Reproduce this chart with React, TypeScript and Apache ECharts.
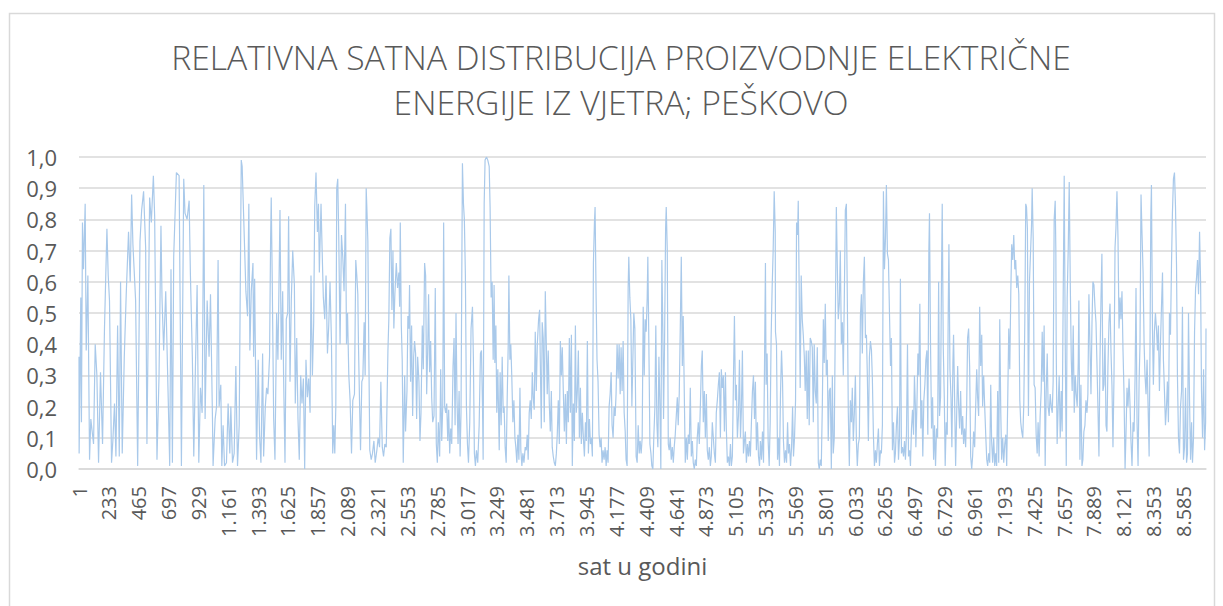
import React, { useEffect, useRef } from "react";
import * as echarts from "echarts";

const TITLE_LINE_1 = "RELATIVNA SATNA DISTRIBUCIJA PROIZVODNJE ELEKTRIČNE";
const TITLE_LINE_2 = "ENERGIJE IZ VJETRA; PEŠKOVO";
const X_NAME = "sat u godini";
const HOUR_MIN = 1;
const HOUR_MAX = 8760;
const HOUR_LABEL_STEP = 232;

// [sat u godini, relativna proizvodnja]
const part1: [number, number][] = [[1,0.36],[2,0.05],[15,0.55],[20,0.15],[28,0.79],[36,0.64],[49,0.85],[57,0.38],[70,0.62],[83,0.03],[93,0.16],[114,0.08],[127,0.40],[140,0.30],[153,0.02],[168,0.31],[184,0.08],[199,0.45],[218,0.77],[228,0.62],[238,0.54],[254,0.02],[264,0.09],[277,0.21],[288,0.04],[301,0.46],[314,0.04],[324,0.60],[337,0.05],[353,0.36],[368,0.56],[386,0.76],[399,0.60],[410,0.88],[420,0.72],[441,0.54],[457,0.01],[475,0.73],[488,0.83],[503,0.89],[519,0.71],[529,0.08],[550,0.87],[563,0.79],[579,0.94],[589,0.81],[607,0.03],[623,0.30],[638,0.78],[646,0.55],[659,0.38],[675,0.57],[693,0.25],[706,0.01],[716,0.64],[727,0.02],[737,0.68],[758,0.95],[779,0.94],[797,0.01],[815,0.93],[825,0.82],[841,0.80],[857,0.86],[867,0.62],[882,0.36],[893,0.04],[906,0.33],[919,0.59],[932,0.02],[945,0.26],[958,0.18],[971,0.91],[981,0.16],[997,0.54],[1012,0.36],[1023,0.56],[1038,0.17]];
const part2: [number, number][] = [[1043,0.01],[1059,0.16],[1070,0.20],[1082,0.67],[1090,0.20],[1103,0.27],[1111,0.01],[1121,0.14],[1132,0.01],[1147,0.02],[1160,0.21],[1173,0.05],[1181,0.20],[1194,0.02],[1207,0.05],[1220,0.33],[1233,0.01],[1246,0.14],[1254,0.56],[1262,0.99],[1269,0.97],[1293,0.64],[1298,0.57],[1311,0.49],[1321,0.85],[1329,0.38],[1340,0.57],[1353,0.66],[1358,0.36],[1366,0.61],[1373,0.33],[1381,0.03],[1394,0.35],[1404,0.11],[1415,0.02],[1428,0.37],[1436,0.04],[1449,0.20],[1459,0.26],[1469,0.24],[1482,0.36],[1490,0.73],[1495,0.87],[1503,0.60],[1514,0.16],[1524,0.03],[1537,0.50],[1547,0.35],[1555,0.58],[1563,0.83],[1573,0.35],[1584,0.57],[1591,0.30],[1602,0.02],[1612,0.48],[1623,0.50],[1630,0.81],[1641,0.28],[1651,0.54],[1662,0.70],[1675,0.59],[1682,0.21],[1693,0.42],[1703,0.16],[1713,0.03],[1724,0.30],[1734,0.21],[1745,0.29],[1755,0.00],[1765,0.35],[1776,0.23],[1786,0.29],[1797,0.18],[1804,0.62],[1815,0.30],[1825,0.47],[1833,0.84],[1843,0.95],[1854,0.76],[1862,0.85],[1869,0.63],[1882,0.85],[1890,0.71],[1900,0.55],[1911,0.48],[1921,0.62],[1932,0.37],[1942,0.46],[1952,0.60],[1963,0.41],[1973,0.05],[1981,0.14],[1989,0.05],[1997,0.20],[2004,0.90],[2012,0.93],[2020,0.74],[2030,0.40],[2041,0.75],[2051,0.68],[2061,0.57],[2072,0.85],[2080,0.40],[2088,0.50],[2098,0.30],[2108,0.22],[2119,0.05],[2129,0.22],[2142,0.24]];
const part3: [number, number][] = [[2152,0.67],[2160,0.62],[2168,0.56],[2173,0.40],[2181,0.22],[2189,0.06],[2199,0.28],[2207,0.29],[2217,0.47],[2225,0.30],[2233,0.90],[2238,0.84],[2246,0.73],[2254,0.35],[2261,0.06],[2272,0.03],[2282,0.05],[2293,0.09],[2303,0.02],[2316,0.06],[2326,0.10],[2337,0.07],[2347,0.28],[2358,0.07],[2368,0.04],[2378,0.08],[2389,0.07],[2402,0.38],[2409,0.48],[2417,0.74],[2425,0.77],[2433,0.51],[2441,0.70],[2448,0.45],[2456,0.56],[2467,0.66],[2477,0.58],[2487,0.63],[2493,0.52],[2498,0.79],[2506,0.46],[2513,0.35],[2521,0.02],[2532,0.30],[2539,0.12],[2550,0.25],[2557,0.49],[2565,0.45],[2570,0.59],[2578,0.28],[2586,0.46],[2594,0.17],[2602,0.36],[2609,0.41],[2617,0.37],[2625,0.16],[2633,0.36],[2643,0.28],[2651,0.09],[2659,0.18],[2669,0.46],[2677,0.32],[2687,0.66],[2695,0.62],[2703,0.24],[2711,0.38],[2718,0.56],[2726,0.31],[2734,0.41],[2742,0.23],[2750,0.15],[2760,0.17],[2770,0.58],[2778,0.08],[2786,0.02],[2794,0.15],[2804,0.04],[2812,0.32],[2820,0.09],[2828,0.20],[2835,0.79],[2843,0.20],[2851,0.18],[2859,0.21],[2867,0.09],[2874,0.19],[2882,0.05],[2890,0.13],[2898,0.08],[2908,0.33],[2916,0.42],[2924,0.14],[2931,0.50],[2939,0.22],[2947,0.08],[2955,0.25],[2963,0.04],[2970,0.18],[2981,0.98],[2989,0.85],[2996,0.80],[3004,0.62],[3012,0.20],[3020,0.08],[3028,0.02],[3038,0.15],[3048,0.45],[3059,0.52],[3066,0.36],[3074,0.05],[3082,0.01],[3090,0.06],[3100,0.02],[3111,0.14],[3121,0.37],[3129,0.38],[3137,0.20],[3142,0.03],[3150,0.85],[3157,0.99],[3168,1.0],[3178,0.99],[3189,0.97],[3196,0.84],[3204,0.55],[3212,0.60],[3220,0.35],[3227,0.59],[3233,0.34]];
const part4: [number, number][] = [[3241,0.46],[3248,0.18],[3256,0.32],[3267,0.06],[3274,0.31],[3282,0.14],[3290,0.36],[3298,0.18],[3305,0.20],[3313,0.07],[3321,0.02],[3329,0.23],[3337,0.40],[3342,0.62],[3350,0.35],[3357,0.40],[3365,0.29],[3373,0.15],[3381,0.22],[3389,0.10],[3396,0.07],[3404,0.02],[3412,0.11],[3420,0.03],[3428,0.26],[3435,0.06],[3443,0.01],[3451,0.05],[3459,0.02],[3469,0.07],[3477,0.06],[3485,0.11],[3492,0.03],[3500,0.18],[3508,0.22],[3516,0.16],[3524,0.31],[3531,0.23],[3539,0.19],[3547,0.44],[3555,0.25],[3563,0.40],[3573,0.48],[3581,0.51],[3586,0.35],[3594,0.13],[3601,0.47],[3609,0.42],[3617,0.15],[3625,0.57],[3633,0.40],[3640,0.24],[3648,0.38],[3656,0.21],[3664,0.12],[3672,0.25],[3679,0.07],[3687,0.04],[3695,0.02],[3703,0.01],[3711,0.05],[3718,0.11],[3726,0.22],[3734,0.08],[3742,0.41],[3750,0.30],[3757,0.39],[3765,0.25],[3773,0.12],[3781,0.24],[3789,0.08],[3796,0.25],[3804,0.15],[3812,0.42],[3820,0.18],[3828,0.43],[3835,0.01],[3843,0.21],[3851,0.09],[3859,0.46],[3866,0.18],[3874,0.25],[3882,0.38],[3890,0.10],[3898,0.26],[3905,0.08],[3913,0.18],[3921,0.10],[3929,0.04],[3937,0.15],[3944,0.09],[3952,0.41],[3960,0.05],[3968,0.16],[3976,0.08],[3983,0.10],[3991,0.04],[3999,0.66],[4007,0.79],[4012,0.84],[4020,0.55],[4027,0.35],[4035,0.28],[4043,0.11],[4051,0.07],[4059,0.10],[4066,0.02],[4074,0.06],[4082,0.03],[4090,0.07],[4098,0.01],[4105,0.06],[4113,0.02],[4121,0.20],[4129,0.24],[4137,0.31],[4144,0.14],[4152,0.10],[4160,0.20],[4168,0.17],[4175,0.24],[4183,0.40],[4191,0.29],[4199,0.40],[4207,0.24],[4214,0.39],[4222,0.25],[4230,0.41],[4238,0.18],[4246,0.12],[4253,0.03],[4261,0.01],[4269,0.58],[4274,0.68],[4282,0.55],[4290,0.48],[4298,0.20],[4305,0.34],[4313,0.50],[4321,0.45]];
const part5: [number, number][] = [[4326,0.25],[4331,0.04],[4339,0.02],[4347,0.14],[4355,0.05],[4362,0.09],[4370,0.05],[4378,0.10],[4386,0.52],[4394,0.30],[4401,0.48],[4409,0.44],[4417,0.55],[4422,0.68],[4430,0.40],[4438,0.08],[4446,0.05],[4453,0.01],[4461,0.00],[4469,0.11],[4477,0.20],[4484,0.46],[4492,0.15],[4500,0.07],[4508,0.36],[4516,0.20],[4523,0.00],[4531,0.67],[4539,0.43],[4544,0.16],[4552,0.41],[4560,0.77],[4565,0.84],[4573,0.70],[4581,0.08],[4588,0.06],[4596,0.10],[4604,0.03],[4612,0.07],[4620,0.02],[4627,0.07],[4635,0.11],[4643,0.17],[4651,0.23],[4658,0.14],[4666,0.24],[4674,0.45],[4682,0.68],[4690,0.33],[4697,0.49],[4705,0.25],[4713,0.02],[4721,0.10],[4729,0.03],[4736,0.11],[4744,0.08],[4752,0.26],[4760,0.04],[4768,0.09],[4775,0.02],[4783,0.00],[4791,0.03],[4799,0.01],[4806,0.10],[4814,0.15],[4822,0.08],[4830,0.20],[4838,0.33],[4845,0.38],[4853,0.15],[4861,0.25],[4869,0.10],[4877,0.24],[4884,0.06],[4892,0.03],[4900,0.07],[4908,0.01],[4915,0.04],[4923,0.15],[4931,0.10],[4939,0.05],[4947,0.02],[4954,0.18],[4962,0.22],[4970,0.27],[4978,0.31],[4986,0.10],[4993,0.32],[5001,0.26],[5009,0.30],[5017,0.12],[5025,0.31],[5032,0.13],[5040,0.02],[5048,0.04],[5056,0.01],[5064,0.08],[5071,0.01],[5079,0.04],[5087,0.28],[5095,0.49],[5103,0.22],[5110,0.27],[5118,0.10],[5126,0.17],[5134,0.35],[5142,0.10],[5149,0.19],[5157,0.38],[5165,0.05],[5173,0.09],[5180,0.12],[5188,0.02],[5196,0.08],[5204,0.04],[5212,0.09],[5219,0.04],[5227,0.15],[5235,0.25],[5243,0.30],[5251,0.16],[5258,0.28],[5266,0.06],[5274,0.15],[5282,0.04],[5290,0.01],[5297,0.09],[5305,0.03],[5313,0.12],[5321,0.02],[5328,0.30],[5336,0.66],[5341,0.27],[5349,0.37],[5357,0.09],[5365,0.01],[5373,0.15],[5380,0.42],[5388,0.58],[5396,0.70],[5404,0.89],[5412,0.76]];
const part6: [number, number][] = [[5414,0.44],[5422,0.40],[5430,0.03],[5438,0.10],[5445,0.01],[5453,0.24],[5461,0.38],[5469,0.28],[5476,0.09],[5484,0.02],[5492,0.06],[5500,0.02],[5508,0.15],[5515,0.05],[5523,0.08],[5531,0.01],[5539,0.07],[5547,0.20],[5554,0.04],[5562,0.10],[5570,0.22],[5578,0.79],[5586,0.75],[5591,0.86],[5599,0.55],[5606,0.26],[5614,0.62],[5622,0.48],[5630,0.43],[5638,0.36],[5645,0.25],[5653,0.38],[5661,0.16],[5669,0.38],[5676,0.14],[5684,0.42],[5692,0.41],[5700,0.39],[5708,0.15],[5715,0.40],[5723,0.25],[5731,0.21],[5739,0.39],[5747,0.02],[5754,0.00],[5762,0.03],[5770,0.01],[5778,0.20],[5786,0.48],[5793,0.34],[5801,0.53],[5809,0.30],[5817,0.35],[5824,0.09],[5832,0.25],[5840,0.26],[5848,0.00],[5856,0.30],[5863,0.05],[5871,0.10],[5879,0.47],[5887,0.84],[5895,0.64],[5902,0.48],[5910,0.53],[5918,0.70],[5926,0.40],[5934,0.47],[5941,0.30],[5949,0.55],[5957,0.83],[5965,0.85],[5973,0.52],[5980,0.18],[5988,0.01],[5996,0.22],[6004,0.15],[6011,0.26],[6019,0.09],[6027,0.18],[6035,0.30],[6043,0.09],[6050,0.01],[6058,0.08],[6066,0.10],[6074,0.49],[6082,0.56],[6089,0.37],[6097,0.60],[6105,0.68],[6113,0.42],[6121,0.43],[6128,0.30],[6136,0.09],[6144,0.36],[6152,0.41],[6160,0.38],[6167,0.29],[6175,0.11],[6183,0.01],[6191,0.06],[6198,0.02],[6206,0.08],[6214,0.13],[6222,0.01],[6230,0.06],[6237,0.05],[6245,0.14],[6253,0.89],[6261,0.64],[6269,0.74],[6276,0.91],[6284,0.69],[6292,0.67],[6300,0.50],[6308,0.33],[6315,0.42],[6323,0.06],[6331,0.15],[6339,0.02],[6346,0.05],[6354,0.14],[6362,0.20],[6370,0.03],[6378,0.10],[6385,0.61],[6393,0.05],[6401,0.07],[6409,0.04],[6417,0.09],[6424,0.03],[6432,0.11],[6440,0.40],[6448,0.04],[6456,0.06],[6463,0.01],[6471,0.13],[6479,0.19],[6487,0.11],[6494,0.30],[6502,0.19]];
const part7: [number, number][] = [[6505,0.07],[6513,0.20],[6521,0.37],[6528,0.30],[6536,0.53],[6544,0.13],[6552,0.22],[6559,0.04],[6567,0.22],[6575,0.27],[6583,0.35],[6591,0.38],[6598,0.11],[6606,0.70],[6611,0.82],[6619,0.40],[6627,0.13],[6635,0.23],[6643,0.03],[6650,0.14],[6658,0.01],[6666,0.13],[6674,0.10],[6682,0.60],[6689,0.17],[6697,0.23],[6705,0.65],[6710,0.85],[6718,0.39],[6726,0.23],[6733,0.01],[6741,0.15],[6749,0.11],[6757,0.52],[6762,0.72],[6770,0.32],[6778,0.23],[6785,0.07],[6793,0.34],[6798,0.43],[6806,0.23],[6814,0.01],[6822,0.17],[6830,0.33],[6837,0.21],[6845,0.13],[6853,0.25],[6861,0.11],[6869,0.17],[6876,0.08],[6884,0.13],[6892,0.07],[6900,0.20],[6907,0.42],[6915,0.45],[6923,0.33],[6931,0.04],[6939,0.00],[6946,0.04],[6954,0.12],[6962,0.07],[6970,0.20],[6978,0.32],[6985,0.23],[6993,0.17],[7001,0.52],[7009,0.33],[7017,0.43],[7024,0.20],[7032,0.30],[7040,0.20],[7048,0.11],[7056,0.03],[7063,0.01],[7071,0.05],[7079,0.02],[7087,0.27],[7094,0.09],[7102,0.02],[7110,0.10],[7118,0.01],[7126,0.05],[7133,0.01],[7141,0.25],[7149,0.02],[7157,0.48],[7165,0.18],[7172,0.03],[7180,0.10],[7188,0.02],[7196,0.08],[7204,0.11],[7211,0.01],[7219,0.22],[7227,0.45],[7235,0.32],[7243,0.57],[7250,0.72],[7258,0.67],[7266,0.75],[7274,0.64],[7281,0.67],[7289,0.58],[7297,0.62],[7305,0.56],[7313,0.22],[7320,0.15],[7328,0.12],[7336,0.10],[7344,0.21],[7352,0.48],[7359,0.85],[7365,0.84],[7372,0.77],[7380,0.17],[7388,0.60],[7396,0.69],[7404,0.78],[7409,0.90],[7417,0.74],[7424,0.27],[7432,0.26],[7440,0.11],[7448,0.05],[7455,0.15],[7463,0.04],[7471,0.17],[7479,0.25],[7487,0.44],[7494,0.28],[7502,0.46],[7510,0.01],[7518,0.25],[7526,0.37],[7533,0.20],[7541,0.17],[7549,0.24],[7557,0.20],[7565,0.18],[7572,0.28],[7580,0.80],[7588,0.86],[7593,0.70]];
const part8: [number, number][] = [[7596,0.38],[7603,0.08],[7611,0.20],[7619,0.30],[7627,0.10],[7635,0.25],[7642,0.12],[7650,0.55],[7658,0.94],[7666,0.40],[7674,0.01],[7681,0.55],[7689,0.70],[7697,0.92],[7705,0.60],[7713,0.35],[7720,0.25],[7728,0.46],[7736,0.18],[7744,0.30],[7751,0.24],[7759,0.20],[7767,0.34],[7772,0.54],[7780,0.03],[7788,0.27],[7796,0.01],[7803,0.03],[7811,0.12],[7819,0.14],[7827,0.22],[7835,0.18],[7842,0.24],[7850,0.56],[7858,0.40],[7866,0.24],[7874,0.47],[7881,0.60],[7889,0.59],[7897,0.52],[7905,0.47],[7913,0.33],[7920,0.20],[7928,0.04],[7936,0.35],[7944,0.55],[7951,0.69],[7959,0.25],[7967,0.27],[7975,0.42],[7983,0.14],[7990,0.12],[7998,0.33],[8006,0.47],[8014,0.53],[8022,0.37],[8029,0.27],[8037,0.07],[8045,0.30],[8053,0.71],[8060,0.77],[8068,0.89],[8076,0.74],[8084,0.45],[8092,0.55],[8099,0.48],[8107,0.57],[8115,0.38],[8123,0.24],[8131,0.00],[8138,0.11],[8146,0.26],[8154,0.20],[8162,0.29],[8170,0.20],[8177,0.09],[8185,0.01],[8193,0.15],[8201,0.12],[8209,0.30],[8216,0.58],[8224,0.15],[8232,0.01],[8240,0.28],[8247,0.40],[8255,0.88],[8263,0.75],[8271,0.63],[8279,0.40],[8286,0.30],[8294,0.24],[8302,0.35],[8310,0.20],[8318,0.04],[8325,0.40],[8331,0.81],[8336,0.91],[8344,0.45],[8351,0.27],[8359,0.44],[8367,0.50],[8375,0.45],[8383,0.38],[8390,0.46],[8398,0.25],[8406,0.40],[8414,0.52],[8422,0.63],[8429,0.35],[8437,0.25],[8445,0.14],[8453,0.20],[8460,0.28],[8468,0.15],[8476,0.50],[8484,0.43],[8492,0.66],[8499,0.82],[8507,0.93],[8515,0.95],[8523,0.84],[8531,0.65],[8538,0.30],[8546,0.10],[8554,0.05],[8562,0.20],[8570,0.25],[8577,0.52],[8585,0.03],[8593,0.07],[8601,0.26],[8609,0.02],[8616,0.05],[8624,0.50],[8632,0.22],[8640,0.03],[8648,0.15],[8655,0.02],[8663,0.10],[8671,0.44],[8679,0.58],[8686,0.61],[8694,0.67],[8702,0.56],[8710,0.76],[8718,0.60],[8725,0.25],[8733,0.10],[8741,0.32],[8749,0.06],[8757,0.15],[8760,0.45]];

const TEXT_COLOR = "#595959";
const GRID_COLOR = "#d9d9d9";
const LINE_COLOR = "#a9c9ea";
const FONT = "'Open Sans', 'Noto Sans', sans-serif";

function formatHour(v: number): string {
  if (v >= 1000) {
    const th = Math.floor(v / 1000);
    const rest = String(v % 1000).padStart(3, "0");
    return th + "." + rest;
  }
  return String(v);
}

export default function App() {
  const ref = useRef<HTMLDivElement>(null);
  useEffect(() => {
    if (!ref.current) return;
    const chart = echarts.init(ref.current, undefined, { renderer: "svg" });
    const data = [...part1, ...part2, ...part3, ...part4, ...part5, ...part6, ...part7, ...part8];
    chart.setOption({
      animation: false,
      backgroundColor: "#ffffff",
      graphic: [
        {
          type: "rect",
          shape: { x: 9.5, y: 13.5, width: 1205, height: 610 },
          style: { fill: "none", stroke: GRID_COLOR, lineWidth: 1.5 },
          silent: true,
        },
        {
          type: "text",
          x: 621,
          y: 57,
          style: {
            text: TITLE_LINE_1,
            fill: TEXT_COLOR,
            font: `300 33.7px ${FONT}`,
            textAlign: "center",
            textVerticalAlign: "middle",
          },
        },
        {
          type: "text",
          x: 621,
          y: 102,
          style: {
            text: TITLE_LINE_2,
            fill: TEXT_COLOR,
            font: `300 33.7px ${FONT}`,
            textAlign: "center",
            textVerticalAlign: "middle",
          },
        },
      ],
      grid: { left: 79, right: 17, top: 157, bottom: 137, containLabel: false },
      xAxis: {
        type: "value",
        min: HOUR_MIN,
        max: HOUR_MAX,
        interval: HOUR_LABEL_STEP,
        name: X_NAME,
        nameLocation: "middle",
        nameGap: 84,
        nameTextStyle: { color: TEXT_COLOR, fontSize: 24, fontFamily: FONT },
        axisLine: { show: true, lineStyle: { color: GRID_COLOR, width: 1.5 } },
        axisTick: { show: false },
        splitLine: { show: false },
        axisLabel: {
          rotate: 90,
          margin: 17,
          color: TEXT_COLOR,
          fontSize: 20,
          fontFamily: FONT,
          showMaxLabel: false,
          hideOverlap: false,
          formatter: (v: number) => (v === HOUR_MAX ? "" : formatHour(v)),
        },
      },
      yAxis: {
        type: "value",
        min: 0,
        max: 1,
        interval: 0.1,
        axisLine: { show: false },
        axisTick: { show: false },
        splitLine: { show: true, lineStyle: { color: GRID_COLOR, width: 1.5 } },
        axisLabel: {
          margin: 22,
          color: TEXT_COLOR,
          fontSize: 22,
          fontFamily: FONT,
          formatter: (v: number) => v.toFixed(1).replace(".", ","),
        },
      },
      series: [
        {
          type: "line",
          data,
          showSymbol: false,
          symbol: "none",
          lineStyle: { color: LINE_COLOR, width: 1.2 },
          itemStyle: { color: LINE_COLOR },
        },
      ],
    });
    return () => chart.dispose();
  }, []);
  return (
    <div
      ref={ref}
      style={{ position: "fixed", left: 0, top: 0, width: 1223, height: 606, background: "#fff" }}
    />
  );
}
